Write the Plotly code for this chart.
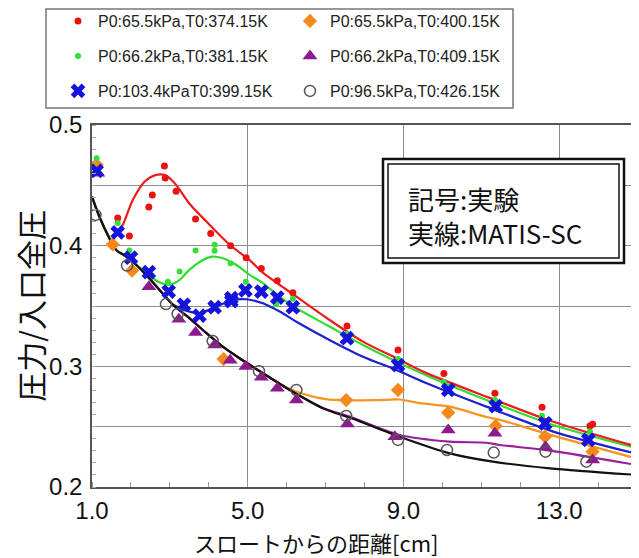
import plotly.graph_objects as go

# ---------------- data ----------------
names = ["P0:65.5kPa,T0:374.15K", "P0:65.5kPa,T0:400.15K",
         "P0:66.2kPa,T0:381.15K", "P0:66.2kPa,T0:409.15K",
         "P0:103.4kPaT0:399.15K", "P0:96.5kPa,T0:426.15K"]

red_x = [1.1, 1.66, 1.96, 2.46, 2.55, 2.86, 2.88, 3.16, 3.66, 4.05, 4.56, 4.96, 5.35, 5.76, 6.16, 7.55, 8.86, 10.04, 11.35, 12.56, 13.79, 13.86]
red_y = [0.468, 0.423, 0.408, 0.432, 0.442, 0.466, 0.456, 0.445, 0.422, 0.410, 0.400, 0.390, 0.381, 0.371, 0.361, 0.3335, 0.3136, 0.294, 0.2777, 0.266, 0.2506, 0.252]

green_x = [1.12, 1.66, 1.96, 2.95, 3.25, 3.66, 4.15, 4.15, 4.56, 4.95, 5.73, 6.16, 7.55, 8.86, 10.04, 11.35, 12.56, 13.79]
green_y = [0.4725, 0.4187, 0.396, 0.370, 0.3785, 0.396, 0.4007, 0.3957, 0.3855, 0.370, 0.3517, 0.356, 0.327, 0.306, 0.287, 0.272, 0.259, 0.246]

blue_x = [1.12, 1.66, 2.0, 2.46, 2.97, 3.36, 3.76, 4.15, 4.58, 4.58, 4.94, 5.35, 5.76, 6.16, 7.55, 8.86, 10.15, 11.37, 12.64, 13.75]
blue_y = [0.462, 0.411, 0.390, 0.378, 0.362, 0.351, 0.342, 0.349, 0.3565, 0.354, 0.363, 0.362, 0.357, 0.349, 0.3233, 0.301, 0.2804, 0.267, 0.2528, 0.239]

orange_x = [1.12, 1.53, 2.03, 4.38, 7.53, 8.86, 10.15, 11.37, 12.64, 13.86]
orange_y = [0.467, 0.401, 0.3794, 0.306, 0.272, 0.2804, 0.2616, 0.2506, 0.2417, 0.2293]

purple_x = [1.15, 2.46, 3.23, 3.66, 4.15, 4.55, 4.95, 5.35, 5.76, 6.25, 7.56, 8.78, 10.15, 11.35, 12.65, 13.86]
purple_y = [0.460, 0.366, 0.339, 0.328, 0.3177, 0.305, 0.2998, 0.291, 0.2818, 0.272, 0.2522, 0.2417, 0.2473, 0.2445, 0.2334, 0.2224]

black_x = [1.09, 1.9, 2.9, 3.2, 4.1, 5.29, 6.25, 7.53, 8.86, 10.12, 11.32, 12.65, 13.7]
black_y = [0.4255, 0.3835, 0.3516, 0.3434, 0.321, 0.296, 0.2804, 0.2589, 0.239, 0.2307, 0.2285, 0.2293, 0.221]

# MATIS-SC curves
red_line_x = [1.66, 1.8, 2.05, 2.35, 2.65, 2.91, 3.16, 3.5, 3.94, 4.53, 5.05, 5.39, 6.25, 7.1, 7.96, 8.82, 9.55, 11.13, 12.85, 15.0]
red_line_y = [0.411, 0.418, 0.438, 0.453, 0.4587, 0.458, 0.4504, 0.435, 0.420, 0.401, 0.388, 0.3777, 0.3578, 0.3385, 0.3205, 0.3067, 0.295, 0.2749, 0.2541, 0.2334]

green_line_x = [1.0, 1.19, 1.45, 1.62, 1.88, 2.14, 2.43, 2.56, 2.78, 2.99, 3.25, 3.5, 3.85, 4.1, 4.36, 4.71, 5.05, 5.39, 5.82, 6.25, 7.1, 7.96, 8.82, 9.55, 11.13, 12.85, 15.0]
green_line_y = [0.4407, 0.424, 0.406, 0.3965, 0.391, 0.384, 0.377, 0.373, 0.369, 0.3675, 0.3716, 0.380, 0.3882, 0.391, 0.3896, 0.384, 0.3758, 0.369, 0.3578, 0.3482, 0.333, 0.3177, 0.3039, 0.293, 0.2721, 0.2514, 0.2321]

blue_line_x = [3.08, 3.36, 3.76, 4.19, 4.62, 4.96, 5.39, 5.82, 6.25, 7.1, 7.96, 8.82, 9.55, 11.13, 12.85, 15.0]
blue_line_y = [0.351, 0.3468, 0.344, 0.3495, 0.355, 0.3556, 0.3523, 0.3454, 0.337, 0.3219, 0.308, 0.297, 0.2866, 0.2666, 0.2459, 0.2274]

orange_line_x = [1.0, 1.19, 1.45, 1.62, 1.88, 2.14, 2.43, 2.74, 3.08, 3.5, 3.94, 4.36, 4.79, 5.39, 6.0, 6.5, 7.0, 7.6, 8.3, 8.9, 9.42, 10.19, 11.13, 11.48, 12.8, 15.0]
orange_line_y = [0.4407, 0.424, 0.406, 0.3965, 0.391, 0.384, 0.3744, 0.363, 0.351, 0.340, 0.3275, 0.3163, 0.3067, 0.2943, 0.2825, 0.2765, 0.2728, 0.2718, 0.272, 0.2725, 0.2695, 0.2666, 0.258, 0.2556, 0.243, 0.2235]

purple_line_x = [1.0, 1.19, 1.45, 1.62, 1.88, 2.14, 2.43, 2.74, 3.08, 3.5, 3.94, 4.36, 4.79, 5.39, 6.08, 6.93, 7.62, 8.9, 10.19, 11.13, 11.48, 12.8, 15.0]
purple_line_y = [0.4407, 0.424, 0.406, 0.3965, 0.391, 0.384, 0.3744, 0.363, 0.351, 0.340, 0.3275, 0.3163, 0.3067, 0.2943, 0.2804, 0.2655, 0.2583, 0.2431, 0.2376, 0.2367, 0.2348, 0.2300, 0.2182]

black_line_x = [1.0, 1.19, 1.45, 1.62, 1.88, 2.14, 2.43, 2.74, 3.08, 3.5, 3.94, 4.36, 4.79, 5.39, 6.08, 6.93, 7.7, 8.9, 10.19, 11.3, 12.76, 15.0]
black_line_y = [0.4407, 0.424, 0.406, 0.3965, 0.391, 0.384, 0.3744, 0.363, 0.351, 0.340, 0.3275, 0.3163, 0.3067, 0.2943, 0.2804, 0.2653, 0.2565, 0.2417, 0.2279, 0.221, 0.2155, 0.21]

x_ticks = [1, 5, 9, 13]
x_tick_text = ["1.0", "5.0", "9.0", "13.0"]
y_ticks = [0.2, 0.25, 0.3, 0.35, 0.4, 0.45, 0.5]
y_tick_text = ["0.2", "", "0.3", "", "0.4", "", "0.5"]

# ---------------- figure ----------------
# The page body keeps an 8 px margin, so the figure is drawn 8 px smaller
# and every reference position below is given in page pixels.
OFF = 8
W, H = 631, 550
ML, MR, MT, MB = 84, 2, 117, 71
PW, PH = W - ML - MR, H - MT - MB

def px_x(p):
    return (p - OFF - ML) / PW

def px_y(p):
    return (H - MB - (p - OFF)) / PH

fig = go.Figure()

line_specs = [
    (orange_line_x, orange_line_y, "#f7931e"),
    (purple_line_x, purple_line_y, "#98209a"),
    (green_line_x, green_line_y, "#2fdc2f"),
    (blue_line_x, blue_line_y, "#1c22d0"),
    (red_line_x, red_line_y, "#ec1c1c"),
    (black_line_x, black_line_y, "#111111"),
]
for lx, ly, c in line_specs:
    fig.add_trace(go.Scatter(x=lx, y=ly, mode="lines", showlegend=False,
                             line=dict(color=c, width=2.2, shape="spline", smoothing=0.8),
                             hoverinfo="skip"))

marker_specs = [
    (red_x, red_y, names[0], dict(symbol="circle", size=7, color="#ee1111"), "legend"),
    (orange_x, orange_y, names[1], dict(symbol="diamond", size=11, color="#f5891c"), "legend2"),
    (green_x, green_y, names[2], dict(symbol="circle", size=6, color="#33e033"), "legend3"),
    (purple_x, purple_y, names[3], dict(symbol="triangle-up", size=13, color="#8e1b8e"), "legend4"),
    (blue_x, blue_y, names[4], dict(symbol="x", size=13, color="#1414dd"), "legend5"),
    (black_x, black_y, names[5], dict(symbol="circle-open", size=11, color="#555555",
                                      line=dict(width=1.5, color="#555555")), "legend6"),
]
for mx, my, nm, mk, lg in marker_specs:
    fig.add_trace(go.Scatter(x=mx, y=my, mode="markers", name=nm, marker=mk, legend=lg))

# six one-item legends laid out in a 2x3 grid
leg_font = dict(family="Liberation Sans, Arial, sans-serif", size=16, color="#222")
col_left = [58, 290]
row_mid = [21, 56, 91]
legend_keys = ["legend", "legend2", "legend3", "legend4", "legend5", "legend6"]
leg_layout = {}
for i, key in enumerate(legend_keys):
    r, c = divmod(i, 2)
    leg_layout[key] = dict(x=px_x(col_left[c]), y=px_y(row_mid[r]), xanchor="left", yanchor="middle",
                           bgcolor="rgba(0,0,0,0)", borderwidth=0, font=leg_font,
                           orientation="v", itemclick=False)

fig.update_layout(**leg_layout)

fig.update_layout(
    width=W, height=H,
    margin=dict(l=ML, r=MR, t=MT, b=MB, pad=0, autoexpand=False),
    paper_bgcolor="white", plot_bgcolor="white",
    font=dict(family="Liberation Sans, Arial, sans-serif", color="#111"),
    xaxis=dict(range=[1, 15], tickvals=x_ticks, ticktext=x_tick_text,
               showgrid=True, gridcolor="#8c8c8c", gridwidth=1,
               showline=True, linecolor="#555", linewidth=1.5, mirror=True,
               ticks="", tickfont=dict(size=24, color="#111"), automargin=False,
               ticklabelstandoff=1,
               minor=dict(dtick=1, ticks="inside", ticklen=5, tickcolor="#999", showgrid=False),
               zeroline=False),
    yaxis=dict(range=[0.2, 0.5], tickvals=y_ticks, ticktext=y_tick_text,
               showgrid=True, gridcolor="#8c8c8c", gridwidth=1,
               showline=True, linecolor="#555", linewidth=1.5, mirror=True,
               ticks="", tickfont=dict(size=24, color="#111"), automargin=False,
               ticklabelstandoff=3,
               minor=dict(dtick=0.01, ticks="inside", ticklen=4, tickcolor="#aaa", showgrid=False),
               title=dict(text="圧力/入口全圧", font=dict(family="Noto Sans CJK JP", size=30, color="#111"),
                          standoff=2),
               zeroline=False),
)

# x-axis title (offset to the left as in the reference)
fig.add_annotation(text="スロートからの距離[cm]", xref="paper", yref="paper",
                   x=px_x(316), y=px_y(542), xanchor="center", yanchor="middle",
                   showarrow=False, borderpad=0,
                   font=dict(family="Noto Sans CJK JP", size=22, color="#111"))

# legend outer frame
fig.add_shape(type="rect", xref="paper", yref="paper",
              x0=px_x(46), x1=px_x(513), y0=px_y(108), y1=px_y(9),
              line=dict(color="#777", width=1.5), fillcolor="rgba(0,0,0,0)", layer="above")

# double-bordered note box
fig.add_shape(type="rect", xref="paper", yref="paper",
              x0=px_x(383), x1=px_x(624), y0=px_y(263), y1=px_y(159),
              line=dict(color="#111", width=2.5), fillcolor="white", layer="above")
fig.add_shape(type="rect", xref="paper", yref="paper",
              x0=px_x(388), x1=px_x(619), y0=px_y(258), y1=px_y(164),
              line=dict(color="#111", width=1.5), fillcolor="rgba(0,0,0,0)", layer="above")
fig.add_annotation(text="記号:実験", xref="paper", yref="paper",
                   x=px_x(406), y=px_y(198), xanchor="left", yanchor="middle",
                   showarrow=False, font=dict(family="Noto Sans CJK JP", size=26, color="#111"))
fig.add_annotation(text="実線:MATIS-SC", xref="paper", yref="paper",
                   x=px_x(406), y=px_y(232), xanchor="left", yanchor="middle",
                   showarrow=False, font=dict(family="Noto Sans CJK JP", size=26, color="#111"))

fig.write_html("out.html")
